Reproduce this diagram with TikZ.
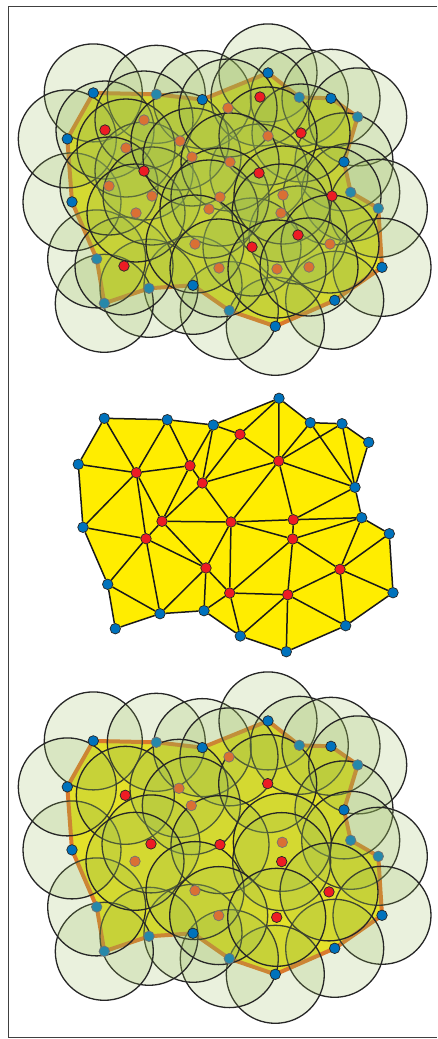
\documentclass[tikz,border=0pt]{standalone}
\usetikzlibrary{backgrounds}

\definecolor{hubred}{RGB}{237,28,36}
\definecolor{relayblue}{RGB}{0,114,188}
\definecolor{hubdim}{RGB}{218,112,52}
\definecolor{relaydim}{RGB}{38,136,170}
\definecolor{meshyellow}{RGB}{255,237,0}
\definecolor{fieldyellow}{RGB}{248,236,30}
\definecolor{rimorange}{RGB}{236,106,34}
\definecolor{diskgreen}{RGB}{150,185,85}

\pgfdeclarelayer{fieldlayer}
\pgfdeclarelayer{disklayer}
\pgfsetlayers{fieldlayer,disklayer,main}

% boundary sensors, #1 = plain style, #2 = style of the covered ones
\newcommand\rimnodes[2]{%
  \node[#1] (b1) at (104.3,418.3) {};
  \node[#2] (b2) at (167.3,419.7) {};
  \node[#1] (b3) at (213.3,425) {};
  \node[#1] (b4) at (279,398.3) {};
  \node[#2] (b5) at (310.3,422.7) {};
  \node[#1] (b6) at (342,423.7) {};
  \node[#2] (b7) at (368.7,442.3) {};
  \node[#1] (b8) at (355,487.3) {};
  \node[#2] (b9) at (361.7,517.7) {};
  \node[#2] (b10) at (389.3,533.7) {};
  \node[#1] (b11) at (393,592.7) {};
  \node[#1] (b12) at (345.7,625.7) {};
  \node[#1] (b13) at (286.3,651.7) {};
  \node[#2] (b14) at (240.3,636) {};
  \node[#1] (b15) at (204,610.7) {};
  \node[#2] (b16) at (160,613.7) {};
  \node[#2] (b17) at (115.3,628.7) {};
  \node[#2] (b18) at (107.7,584.3) {};
  \node[#1] (b19) at (83,527.3) {};
  \node[#1] (b20) at (78.3,464.3) {};
}
% interior sensors after relocation
\newcommand\corenodes[2]{%
  \node[#2] (r1) at (240,434.3) {};
  \node[#2] (r2) at (190,465.7) {};
  \node[#1] (r3) at (136.3,472.7) {};
  \node[#2] (r4) at (202.3,483) {};
  \node[#1] (r5) at (278.7,461) {};
  \node[#1] (r6) at (162,521.3) {};
  \node[#1] (r7) at (231,522) {};
  \node[#2] (r8) at (293.3,519.7) {};
  \node[#1] (r9) at (292.7,539) {};
  \node[#2] (r10) at (146,538.7) {};
  \node[#2] (r11) at (206,568) {};
  \node[#1] (r12) at (340,569.3) {};
  \node[#2] (r13) at (229.7,593) {};
  \node[#1] (r14) at (287.7,594.7) {};
}

\begin{document}
\begin{tikzpicture}[
  x=1pt, y=-1pt,
  dot/.style={circle, draw=black!85, line width=0.7pt, minimum size=10.5pt, inner sep=0pt},
  relay/.style={dot, fill=relayblue},
  relay dim/.style={dot, draw=black!55, fill=relaydim},
  hub/.style={dot, fill=hubred},
  hub dim/.style={dot, draw=black!55, fill=hubdim},
  field/.style={fill=fieldyellow, draw=rimorange, line width=4pt, line join=round},
  disk/.style={draw=black!85, line width=1.3pt, fill=diskgreen, fill opacity=0.2},
  mesh/.style={draw=black!90, line width=1.5pt},
  frame/.style={draw=black!75, line width=1pt}
]
\useasboundingbox (0,0) rectangle (437,1039);
\draw[frame] (437,6) -| (8,1037) -- (437,1037);

% top: initial random placement
\begin{scope}[name prefix=u-]
  \begin{scope}[shift={(-11,-325.4)}]
    \rimnodes{relay}{relay dim}
  \end{scope}
  \node[hub] (s1) at (105,130) {};
  \node[hub] (s2) at (144,171) {};
  \node[hub] (s3) at (260,97) {};
  \node[hub] (s4) at (301,133) {};
  \node[hub] (s5) at (259,173) {};
  \node[hub] (s6) at (332,196) {};
  \node[hub] (s7) at (298,235) {};
  \node[hub] (s8) at (124,266) {};
  \node[hub] (s9) at (252,247) {};
  \node[hub dim] (s10) at (144,120) {};
  \node[hub dim] (s11) at (126,148) {};
  \node[hub dim] (s12) at (109,186) {};
  \node[hub dim] (s13) at (152,196) {};
  \node[hub dim] (s14) at (136,213) {};
  \node[hub dim] (s15) at (180,141) {};
  \node[hub dim] (s16) at (192,157) {};
  \node[hub dim] (s17) at (228,108) {};
  \node[hub dim] (s18) at (268,136) {};
  \node[hub dim] (s19) at (230,162) {};
  \node[hub dim] (s20) at (220,197) {};
  \node[hub dim] (s21) at (209,209) {};
  \node[hub dim] (s22) at (283,195) {};
  \node[hub dim] (s23) at (281,213) {};
  \node[hub dim] (s24) at (195,244) {};
  \node[hub dim] (s25) at (219,268) {};
  \node[hub dim] (s26) at (330,244) {};
  \node[hub dim] (s27) at (277,269) {};
  \node[hub dim] (s28) at (309,267) {};
  \begin{pgfonlayer}{fieldlayer}
    \draw[field] (b1.center) \foreach \i in {2,...,20}{-- (b\i.center)} -- cycle;
  \end{pgfonlayer}
  \begin{pgfonlayer}{disklayer}
    \foreach \i in {1,...,20} \draw[disk] (b\i) circle[radius=49pt];
    \foreach \i in {1,...,28} \draw[disk] (s\i) circle[radius=49pt];
  \end{pgfonlayer}
\end{scope}

% middle: triangulation
\begin{scope}[name prefix=m-]
  \rimnodes{relay}{relay}
  \corenodes{hub}{hub}
  \begin{pgfonlayer}{fieldlayer}
    \fill[meshyellow] (b1.center) \foreach \i in {2,...,20}{-- (b\i.center)} -- cycle;
    \draw[mesh] (b1) -- (b2) -- (b3) -- (b4) -- (b5) -- (b6) -- (b7) -- (b8) -- (b9) -- (b10) -- (b11);
    \draw[mesh] (b11) -- (b12) -- (b13) -- (b14) -- (b15) -- (b16) -- (b17) -- (b18) -- (b19) -- (b20) -- (b1);
    \draw[mesh] (b1) -- (r3) -- (b2) -- (r2) -- (b3) -- (r4) -- (r1) -- (b3);
    \draw[mesh] (b4) -- (r1) -- (r5) -- (b4);
    \draw[mesh] (b5) -- (r5) -- (b6) -- (b8) -- (b5);
    \draw[mesh] (r5) -- (b8) -- (r8) -- (b9) -- (r9) -- (r8) -- (r5) -- (r4);
    \draw[mesh] (r3) -- (r2) -- (r4) -- (r6) -- (r2);
    \draw[mesh] (r4) -- (r7) -- (r5);
    \draw[mesh] (r8) -- (r7) -- (r6) -- (r3) -- (b20);
    \draw[mesh] (b19) -- (r3) -- (r10) -- (b19);
    \draw[mesh] (r6) -- (r10) -- (b18) -- (b16) -- (r10) -- (r11) -- (r6);
    \draw[mesh] (r7) -- (r9) -- (r12) -- (b9);
    \draw[mesh] (r11) -- (r7) -- (r13) -- (r11) -- (b16);
    \draw[mesh] (r11) -- (b15) -- (r13) -- (b14) -- (r14) -- (r13) -- (r9) -- (r14) -- (b13);
    \draw[mesh] (b11) -- (r12) -- (b12) -- (r14) -- (r12) -- (b10);
  \end{pgfonlayer}
\end{scope}

% bottom: relocated sensors
\begin{scope}[name prefix=l-]
  \begin{scope}[shift={(-11,322.6)}]
    \rimnodes{relay}{relay dim}
    \corenodes{hub}{hub dim}
  \end{scope}
  \begin{pgfonlayer}{fieldlayer}
    \draw[field] (b1.center) \foreach \i in {2,...,20}{-- (b\i.center)} -- cycle;
  \end{pgfonlayer}
  \begin{pgfonlayer}{disklayer}
    \foreach \i in {1,...,20} \draw[disk] (b\i) circle[radius=49pt];
    \foreach \i in {1,...,14} \draw[disk] (r\i) circle[radius=49pt];
  \end{pgfonlayer}
\end{scope}

\end{tikzpicture}
\end{document}
